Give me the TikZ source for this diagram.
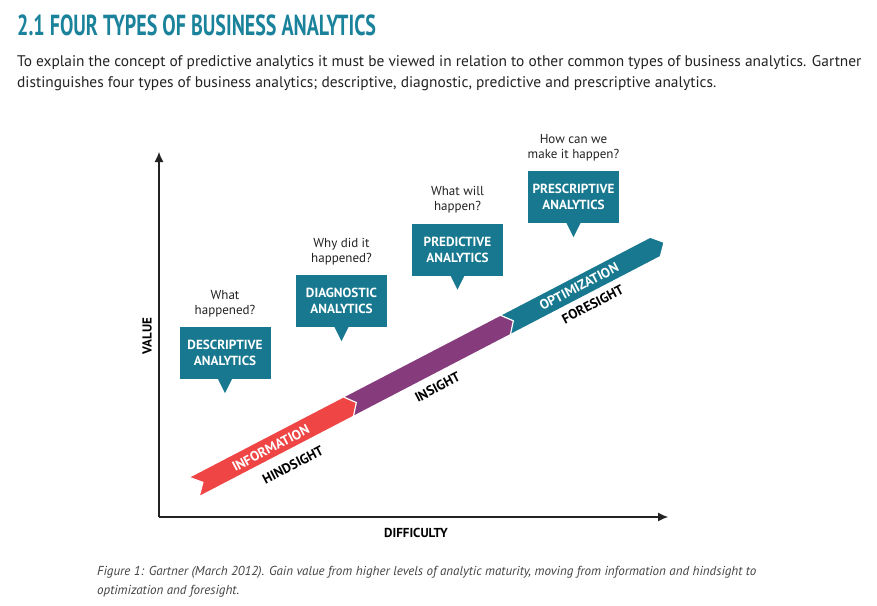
\documentclass[tikz,border=0pt]{standalone}
\usepackage{fontspec}
\setmainfont{PT Sans}
\newfontfamily\titlefont[FakeStretch=0.69]{PT Sans}
\usetikzlibrary{positioning}
\usetikzlibrary{arrows.meta}

\definecolor{gtitle}{HTML}{1B829C}
\definecolor{gteal}{HTML}{17788F}
\definecolor{gred}{HTML}{EF4545}
\definecolor{gpurple}{HTML}{853B7C}
\definecolor{gtext}{HTML}{222222}

\begin{document}
\begin{tikzpicture}[x=1pt, y=-1pt, >={Latex[length=10pt,width=9pt]},
	question/.style={align=center, inner sep=0pt, text=gtext,
		font=\fontsize{13}{15}\selectfont},
	callout/.style={fill=gteal, text=white, align=center, inner sep=0pt,
		minimum width=91pt, minimum height=52pt,
		font=\fontsize{13.2}{16}\selectfont\bfseries},
	axislabel/.style={inner sep=0pt, font=\fontsize{13}{15}\selectfont\bfseries},
	bandlabel/.style={inner sep=0pt, rotate=\ang,
		font=\fontsize{13.6}{15}\selectfont\bfseries},
	bandedge/.style={draw=white, line width=1.2pt, line join=miter}
]

	\def\ang{27.5} % slope of the band in degrees
	\def\hw{11}    % half width of the band

	\useasboundingbox (0,0) rectangle (877,605);

	% heading and text
	\node[anchor=base west, inner sep=0pt, text=gtitle,
		font=\titlefont\fontsize{29}{32}\selectfont\bfseries]
		(title) at (17,35) {2.1 FOUR TYPES OF BUSINESS ANALYTICS};
	\node[anchor=base west, inner sep=0pt, text=gtext,
		font=\fontsize{15.4}{20}\selectfont] (line1) at (17,66)
		{To explain the concept of predictive analytics it must be viewed in relation to other common types of business analytics. Gartner};
	\node[anchor=base west, inner sep=0pt, text=gtext,
		font=\fontsize{15.4}{20}\selectfont] (line2) at (17,87)
		{distinguishes four types of business analytics; descriptive, diagnostic, predictive and prescriptive analytics.};

	% axes
	\coordinate (O) at (159,517);
	\coordinate (Ytop) at (159,152);
	\coordinate (Xend) at (668,517);
	\draw[->, line width=1.1pt, gtext] (O) -- (Ytop);
	\draw[->, line width=1.1pt, gtext] (O) -- (Xend);
	\node[axislabel, rotate=90] (value) at (147,336) {VALUE};
	\node[axislabel] (difficulty) at (416,533) {DIFFICULTY};

	% band
	\begin{scope}[shift={(194,487)}, rotate=\ang]
		\filldraw[bandedge, fill=gteal] (345,-\hw) -- (520,-\hw) -- (530,0)
			-- (520,\hw) -- (345,\hw) -- cycle;
		\filldraw[bandedge, fill=gpurple] (172,-\hw) -- (351,-\hw) -- (360,0)
			-- (351,\hw) -- (172,\hw) -- cycle;
		\filldraw[bandedge, fill=gred] (0,-\hw) -- (174,-\hw) -- (183,0)
			-- (174,\hw) -- (0,\hw) -- (10,0) -- cycle;

		\node[bandlabel, text=white] (info) at (86,1) {INFORMATION};
		\node[bandlabel] (hind) at (98,26) {HINDSIGHT};
		\node[bandlabel] (insight) at (262,24) {INSIGHT};
		\node[bandlabel, text=white] (optim) at (434,0) {OPTIMIZATION};
		\node[bandlabel] (fore) at (438,22) {FORESIGHT};
	\end{scope}

	% callouts
	\node[callout] (desc) at (225,353) {DESCRIPTIVE\\ANALYTICS};
	\node[callout] (diag) at (341.5,301) {DIAGNOSTIC\\ANALYTICS};
	\node[callout] (pred) at (457.5,249.5) {PREDICTIVE\\ANALYTICS};
	\node[callout] (presc) at (573.5,197) {PRESCRIPTIVE\\ANALYTICS};

	\foreach \n in {desc,diag,pred,presc}
		\fill[gteal] ([xshift=-7pt]\n.south) -- ([xshift=7pt]\n.south)
			-- ([yshift=-14pt]\n.south) -- cycle;

	% questions
	\node[question, above=10pt of desc] (qdesc) {What\\happened?};
	\node[question, above=10pt of diag] (qdiag) {Why did it\\happened?};
	\node[question, above=10pt of pred] (qpred) {What will\\happen?};
	\node[question, above=10pt of presc] (qpresc) {How can we\\make it happen?};

	% caption
	\node[anchor=base west, inner sep=0pt, text=gtext!85, align=left,
		font=\fontsize{13}{19}\selectfont\itshape] (caption) at (97,594)
		{Figure 1: Gartner (March 2012). Gain value from higher levels of analytic maturity, moving from information and hindsight to\\optimization and foresight.};

\end{tikzpicture}
\end{document}
